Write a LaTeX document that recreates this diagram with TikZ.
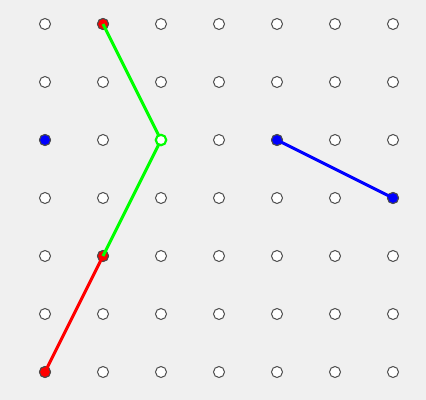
\documentclass[tikz,border=0pt]{standalone}
\begin{document}
\begin{tikzpicture}[x=0.75pt,y=-0.75pt,
  dot/.style={circle,draw=black!70,line width=0.75pt,fill=white,minimum size=8.25pt,inner sep=0pt},
  reddot/.style={dot,fill=red},
  bluedot/.style={dot,fill=blue},
  ring/.style={circle,draw=green,line width=1.6pt,fill=white,minimum size=7.8pt,inner sep=0pt},
  seg/.style={line width=2.25pt}]
\fill[black!6] (0,0) rectangle (426,400);
\useasboundingbox (0,0) rectangle (426,400);
\foreach \i in {0,...,6}{
  \foreach \j in {0,...,6}{
    \node[dot] (p-\i-\j) at ({45+58*\i},{24+58*\j}) {};
  }
}
\node[reddot] (r1) at (p-1-0) {};
\node[reddot] (r2) at (p-1-4) {};
\node[reddot] (r3) at (p-0-6) {};
\node[bluedot] (b1) at (p-0-2) {};
\node[bluedot] (b2) at (p-4-2) {};
\node[bluedot] (b3) at (p-6-3) {};
\draw[seg,red] (r3.center) -- (r2.center);
\draw[seg,green] (r1.center) -- (p-2-2.center) -- (r2.center);
\draw[seg,blue] (b2.center) -- (b3.center);
\node[ring] (g) at (p-2-2) {};
\end{tikzpicture}
\end{document}
